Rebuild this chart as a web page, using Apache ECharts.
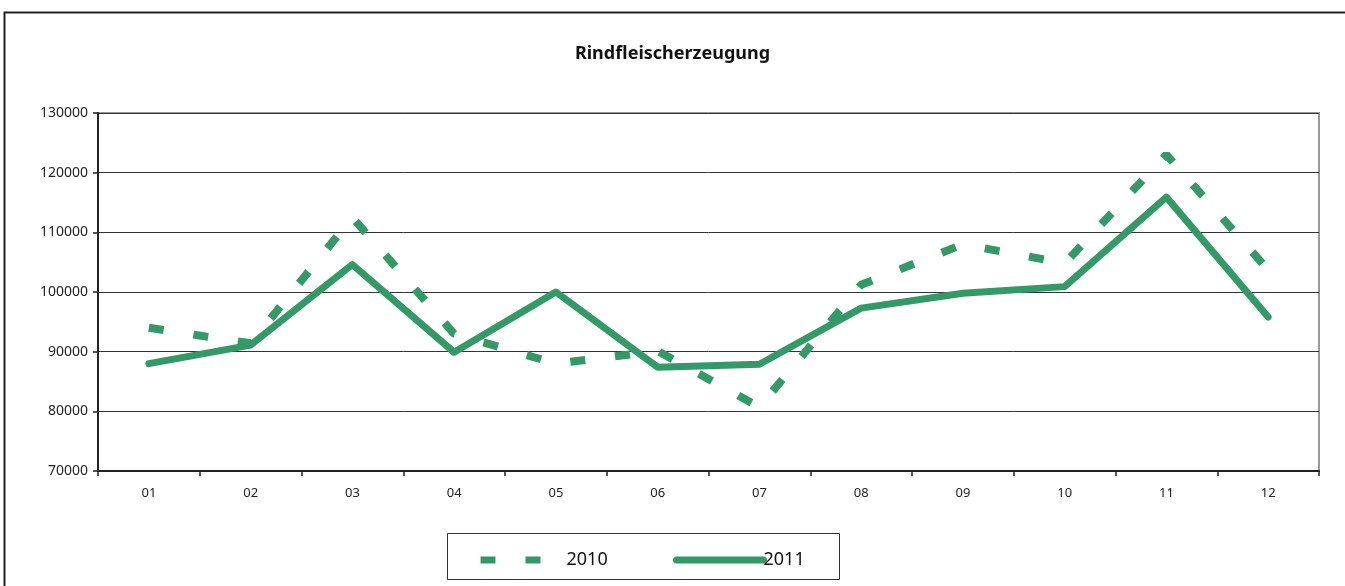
<!DOCTYPE html>
<html>
<head>
<meta charset="utf-8">
<script src="https://cdn.jsdelivr.net/npm/echarts@6/dist/echarts.min.js"></script>
<style>
  html, body { margin: 0; padding: 0; background: #fff; }
  #main { width: 1345px; height: 586px; }
</style>
</head>
<body>
<div id="main"></div>
<script>
// Monate
var months = ['01', '02', '03', '04', '05', '06', '07', '08', '09', '10', '11', '12'];
// Rindfleischerzeugung 2010 / 2011
var data2010 = [94000, 91400, 112500, 93000, 88000, 90100, 80700, 101200, 108000, 104800, 123000, 103700];
var data2011 = [88000, 91100, 104600, 89900, 100000, 87400, 87900, 97300, 99800, 100900, 115900, 95800];
var yTicks = [70000, 130000, 10000];  // min, max, interval

var green = '#339966';
var chart = echarts.init(document.getElementById('main'));

chart.setOption({
    animation: false,
    textStyle: { fontFamily: 'Noto Sans' },
    title: {
        text: 'Rindfleischerzeugung',
        left: 'center',
        top: 40,
        textStyle: { fontSize: 18, fontWeight: 'bold', color: '#111', fontFamily: 'Noto Sans' }
    },
    graphic: [
        {   // Rahmen aussen
            type: 'rect', left: 2, top: 10, silent: true,
            shape: { width: 1400, height: 700 },
            style: { fill: 'none', stroke: '#222', lineWidth: 2 }
        },
        {   // Legendenrahmen
            type: 'rect', left: 447, top: 533, silent: true,
            shape: { width: 392, height: 46 },
            style: { fill: '#fff', stroke: '#333', lineWidth: 1 },
            z: 0
        }
    ],
    legend: [
        {
            data: ['2010'],
            left: 472, top: 546,
            itemWidth: 62, itemHeight: 8,
            itemStyle: { opacity: 0 },
            lineStyle: { width: 7 },
            textStyle: { fontSize: 18, color: '#111', padding: [0, 0, 0, 19] },
            z: 5
        },
        {
            data: ['2011'],
            left: 668, top: 546,
            itemWidth: 87, itemHeight: 8,
            itemStyle: { opacity: 0 },
            lineStyle: { width: 7 },
            textStyle: { fontSize: 18, color: '#111', padding: [0, 0, 0, -5] },
            z: 5
        }
    ],
    grid: {
        left: 98, right: 26, top: 113, bottom: 115,
        show: true, borderColor: '#999', borderWidth: 2
    },
    xAxis: {
        type: 'category',
        data: months,
        boundaryGap: true,
        axisLine: { lineStyle: { color: '#222', width: 2 } },
        axisTick: { show: true, length: 5, lineStyle: { color: '#222', width: 1.5 } },
        axisLabel: { color: '#222', fontSize: 13, margin: 16 },
        splitLine: { show: false }
    },
    yAxis: {
        type: 'value',
        min: yTicks[0], max: yTicks[1], interval: yTicks[2],
        axisLine: { show: true, lineStyle: { color: '#222', width: 2 } },
        axisTick: { show: true, length: 5, lineStyle: { color: '#222', width: 1.5 } },
        axisLabel: {
            color: '#222', fontSize: 14, margin: 10,
            formatter: function (v) { return String(v); }
        },
        splitLine: { lineStyle: { color: '#333', width: 1 } }
    },
    series: [
        {
            name: '2010',
            type: 'line',
            data: data2010,
            symbol: 'none',
            lineStyle: { color: green, width: 8, type: [15, 30], cap: 'butt' },
            itemStyle: { color: green },
            z: 3
        },
        {
            name: '2011',
            type: 'line',
            data: data2011,
            symbol: 'none',
            lineStyle: { color: green, width: 7, cap: 'round', join: 'round' },
            itemStyle: { color: green },
            z: 4
        }
    ]
});
</script>
</body>
</html>
